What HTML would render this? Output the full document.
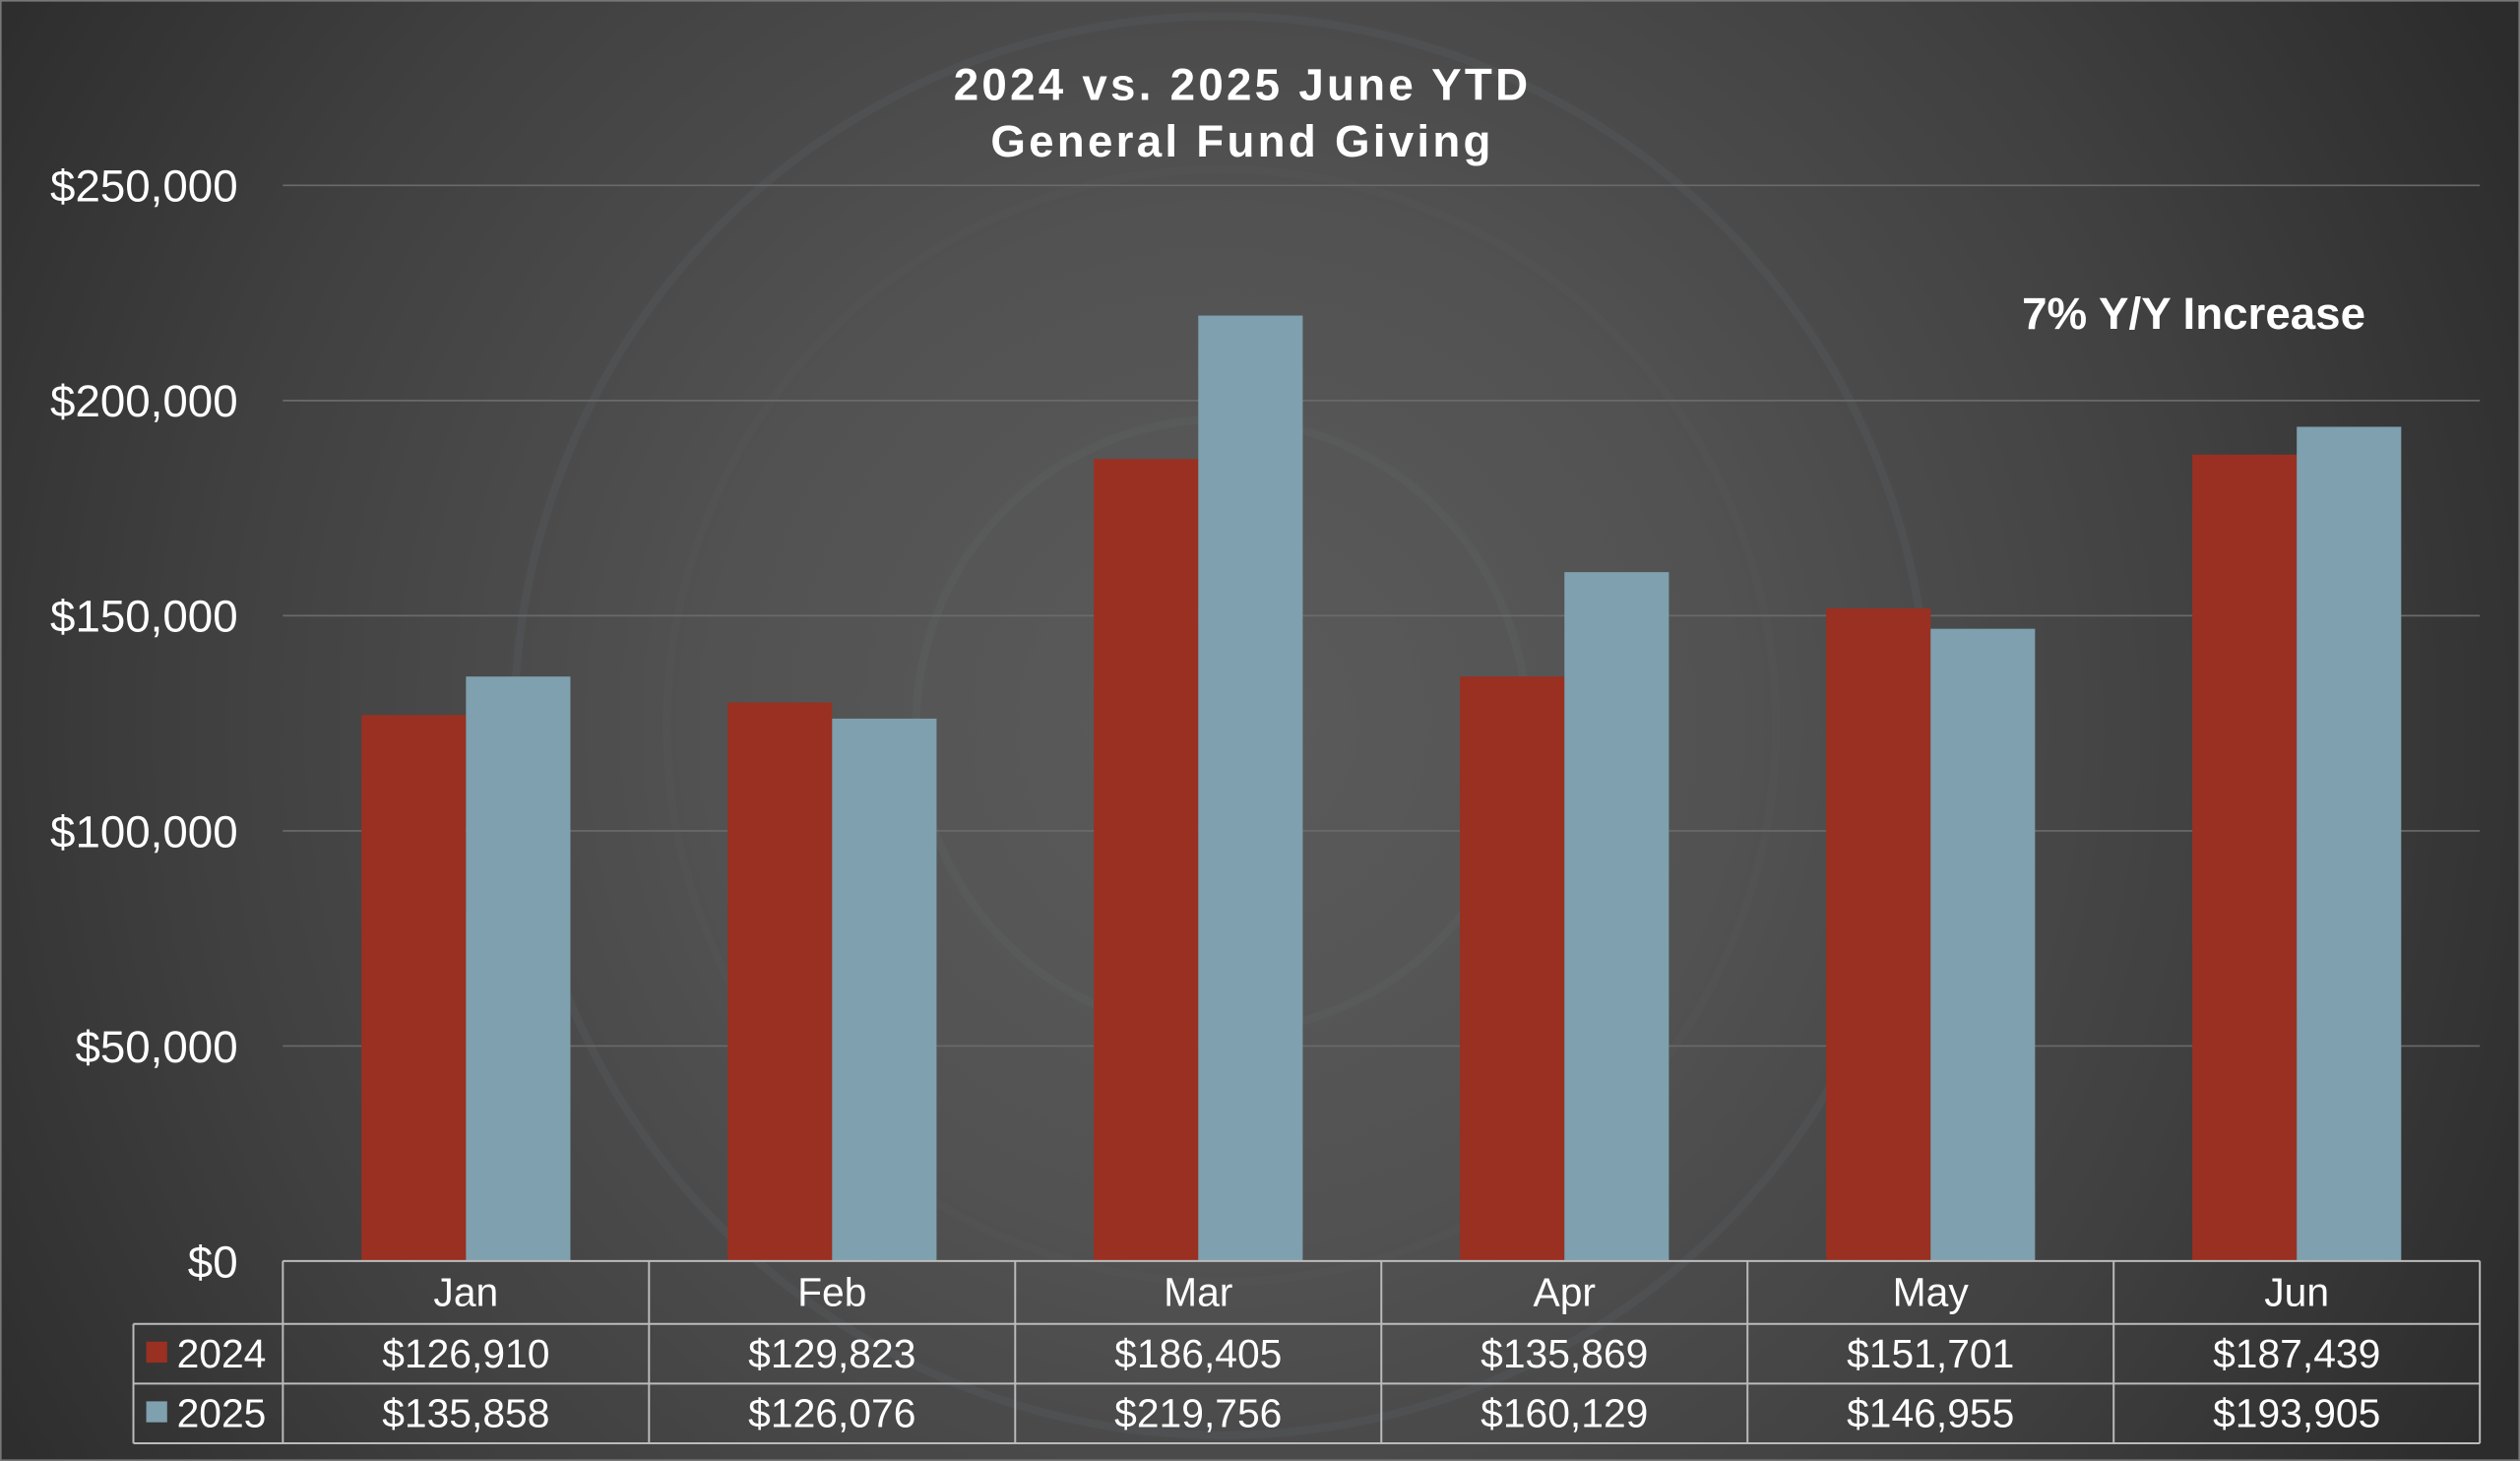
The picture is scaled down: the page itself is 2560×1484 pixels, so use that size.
<!DOCTYPE html>
<html><head><meta charset="utf-8"><style>
html,body{margin:0;padding:0;background:#333;width:2560px;height:1484px;overflow:hidden;}
svg{display:block;font-family:"Liberation Sans",sans-serif;}
</style></head><body>
<svg id="chart" width="2560" height="1484" viewBox="0 0 1568 906" preserveAspectRatio="none" xmlns="http://www.w3.org/2000/svg" overflow="hidden">
<defs>
<radialGradient id="bg" cx="760" cy="450" r="900" gradientUnits="userSpaceOnUse">
<stop offset="0" stop-color="#5b5b5b"/>
<stop offset="0.35" stop-color="#525252"/>
<stop offset="0.7" stop-color="#404040"/>
<stop offset="1" stop-color="#2c2c2c"/>
</radialGradient>
<clipPath id="frame"><rect x="0" y="0" width="1568" height="906"/></clipPath>
</defs>
<rect x="0" y="0" width="1568" height="906" fill="url(#bg)"/>
<g fill="none" stroke-width="5" opacity="0.09" clip-path="url(#frame)">
<circle cx="760" cy="450" r="190" stroke="#7a8a90"/>
<circle cx="760" cy="450" r="345" stroke="#666"/>
<circle cx="760" cy="450" r="440" stroke="#8a4a44"/>
<circle cx="760" cy="450" r="440" stroke="#7a8a90" transform="translate(0,0) scale(1)"/>
</g>
<rect x="0.5" y="0.5" width="1567" height="905" fill="none" stroke="#777" stroke-width="1"/>
<g fill="#fff" font-weight="bold" font-size="28" text-anchor="middle" letter-spacing="2">
<text x="773" y="62">2024 vs. 2025 June YTD</text>
<text x="773" y="97">General Fund Giving</text>
</g>
<text x="1365" y="204" fill="#fff" font-weight="bold" font-size="28" text-anchor="middle">7% Y/Y Increase</text>
<g id="grid"></g>
<g id="bars"></g>
<g id="table"></g>
</svg>
<script>
const categories = ["Jan","Feb","Mar","Apr","May","Jun"];
const series2024 = [126910,129823,186405,135869,151701,187439];
const series2025 = [135858,126076,219756,160129,146955,193905];
const yTicks = [0,50000,100000,150000,200000,250000];
const seriesNames = ["2024","2025"];
const NS="http://www.w3.org/2000/svg";
const plotL=176, plotR=1543, y0=782, yTop=115, yMax=250000;
const yScale=v=>y0-(v/yMax)*(y0-yTop);
const bandW=(plotR-plotL)/categories.length;
const xBand=i=>plotL+i*bandW;
const fmt=v=>"$"+v.toLocaleString("en-US");
function mk(tag,attrs,parent,text){const e=document.createElementNS(NS,tag);for(const k in attrs)e.setAttribute(k,attrs[k]);if(text!==undefined)e.textContent=text;parent.appendChild(e);return e;}
const grid=document.getElementById("grid");
yTicks.forEach(t=>{
  if(t>0){const l=mk("line",{x1:plotL,x2:plotR,y1:yScale(t),y2:yScale(t),stroke:"#6a6a6a","stroke-width":1},grid);
  
  }
  const tx=mk("text",{x:148,y:yScale(t)+10,fill:"#fff","font-size":28,"text-anchor":"end"},grid,fmt(t));
  
  
});
const bars=document.getElementById("bars");
const colors=["#9a3022","#7fa0ae"];
const bw=65;
categories.forEach((c,i)=>{
  const cx=xBand(i)+bandW/2;
  [series2024,series2025].forEach((s,k)=>{
    const y=yScale(s[i]);
    const r=mk("rect",{x:cx-bw+k*bw,y:y,width:bw,height:y0-y,fill:colors[k]},bars);
    
    
  });
});
const tb=document.getElementById("table");
const ls={stroke:"#bbb","stroke-width":1.2};
mk("line",Object.assign({x1:plotL,x2:plotR,y1:782,y2:782},ls),tb);
[821,858,895].forEach(y=>mk("line",Object.assign({x1:83,x2:plotR,y1:y,y2:y},ls),tb));
mk("line",Object.assign({x1:83,x2:83,y1:821,y2:895},ls),tb);
for(let i=0;i<=categories.length;i++){mk("line",Object.assign({x1:xBand(i),x2:xBand(i),y1:782,y2:895},ls),tb);}
categories.forEach((c,i)=>{
  const cx=xBand(i)+bandW/2;
  const h=mk("text",{x:cx,y:810,fill:"#fff","font-size":25,"text-anchor":"middle"},tb,c);
  
  
  [series2024,series2025].forEach((s,k)=>{
    const t=mk("text",{x:cx,y:848+k*37,fill:"#fff","font-size":25,"text-anchor":"middle"},tb,fmt(s[i]));
    
    
  });
});
seriesNames.forEach((n,k)=>{
  const sw=mk("rect",{x:91,y:832+k*37,width:13,height:13,fill:colors[k]},tb);
  
  
  const t=mk("text",{x:110,y:848+k*37,fill:"#fff","font-size":25},tb,n);
  
  
});
</script>
</body></html>
